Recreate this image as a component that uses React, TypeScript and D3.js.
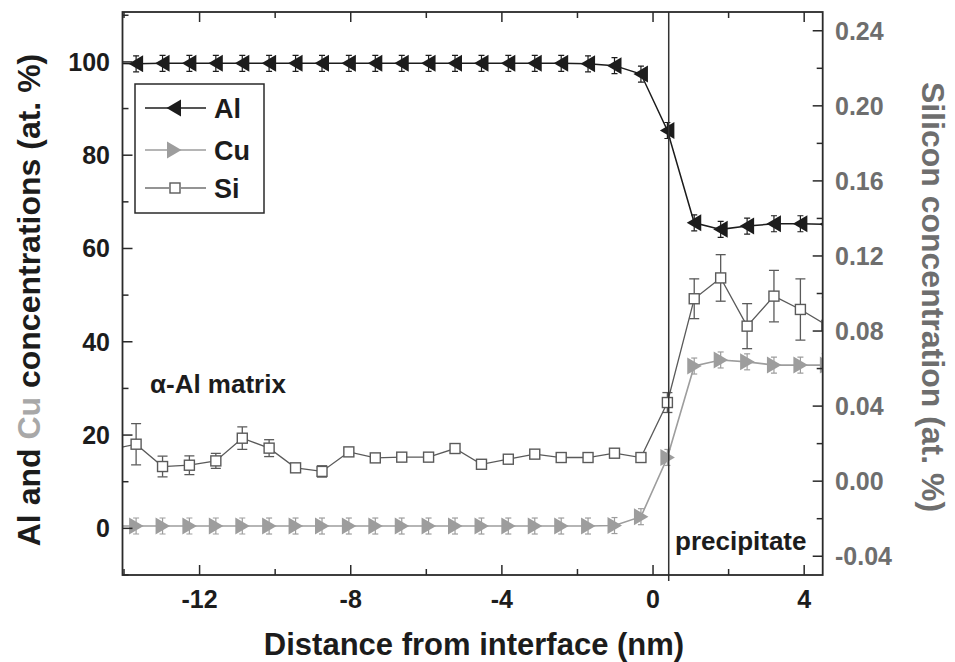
import React from "react";
import * as d3 from "d3";

// ---- data ----
const distance = [
  -14.38, -13.68, -12.98, -12.27, -11.57, -10.87, -10.16, -9.46, -8.76, -8.05,
  -7.35, -6.65, -5.94, -5.24, -4.54, -3.83, -3.13, -2.43, -1.72, -1.02,
  -0.32, 0.38, 1.09, 1.79, 2.49, 3.2, 3.9, 4.6,
];
const alConc = [
  99.7, 99.6, 99.7, 99.7, 99.7, 99.7, 99.7, 99.7, 99.7, 99.7,
  99.7, 99.7, 99.7, 99.7, 99.7, 99.7, 99.7, 99.7, 99.6, 99.2,
  97.4, 85.3, 65.5, 64.1, 64.8, 65.3, 65.3, 65.2,
];
const cuConc = [
  0.5, 0.5, 0.5, 0.5, 0.5, 0.5, 0.5, 0.5, 0.5, 0.5,
  0.5, 0.5, 0.5, 0.5, 0.5, 0.5, 0.5, 0.5, 0.5, 0.6,
  2.5, 15.2, 34.8, 36.1, 35.7, 35.0, 35.0, 35.0,
];
const siConc = [
  0.0167, 0.0197, 0.0078, 0.0085, 0.0108, 0.0229, 0.0176, 0.0071, 0.0052, 0.0156,
  0.0124, 0.0128, 0.0128, 0.0174, 0.009, 0.0117, 0.0144, 0.0126, 0.0126, 0.0149,
  0.0126, 0.0419, 0.0972, 0.1083, 0.0826, 0.0986, 0.0915, 0.083,
];
const siErr = [
  0.006, 0.011, 0.0055, 0.005, 0.004, 0.006, 0.0045, 0.001, 0.003, 0.002,
  0.001, 0.001, 0.001, 0.001, 0.002, 0.002, 0.001, 0.002, 0.002, 0.001,
  0.001, 0.0053, 0.0106, 0.0124, 0.012, 0.0137, 0.0163, 0.015,
];
const interfaceX = 0.415;
const xTicksMajor = [-12, -8, -4, 0, 4];
const xTicksMinor = [-14, -10, -6, -2, 2];
const leftTicksMajor = [0, 20, 40, 60, 80, 100];
const leftTicksMinor = [-10, 10, 30, 50, 70, 90, 110];
const rightTicksMajor = [-0.04, 0, 0.04, 0.08, 0.12, 0.16, 0.2, 0.24];
const rightTicksMinor = [-0.02, 0.02, 0.06, 0.1, 0.14, 0.18, 0.22];
const legendItems = ["Al", "Cu", "Si"];

const FONT = "'Liberation Sans', Arial, Helvetica, sans-serif";
const DARK = "#1c1c1c";
const GRAY_CU = "#9d9d9d";
const GRAY_SI = "#5a5a5a";
const GRAY_TXT = "#6e6e6e";

const W = 955, H = 662;
const L = 122.5, R = 822.7, T = 12, B = 575;

export default function App() {
  const x = d3.scaleLinear().domain([-14.04, 4.49]).range([L, R]);
  const yL = d3.scaleLinear().domain([-10, 110.7]).range([B, T]);
  const yR = d3.scaleLinear().domain([-0.05, 0.25]).range([B, T]);

  const alLine = d3.line<number>().x((_, i) => x(distance[i])).y((d) => yL(d))(alConc) || "";
  const cuLine = d3.line<number>().x((_, i) => x(distance[i])).y((d) => yL(d))(cuConc) || "";
  const siLine = d3.line<number>().x((_, i) => x(distance[i])).y((d) => yR(d))(siConc) || "";

  const triL = "M -7.5,0 L 7,-8.5 L 7,8.5 Z";
  const triR = "M 7.5,0 L -7,-8.5 L -7,8.5 Z";
  const fmtR = (v: number) => d3.format(".2f")(v).replace("\u2212", "-");

  const spiky = (col: string) => (
    <>
      <line x1={0} x2={0} y1={-8} y2={8} stroke={col} strokeWidth={1.2} />
      <line x1={-3} x2={3} y1={-8} y2={-8} stroke={col} strokeWidth={1.2} />
      <line x1={-3} x2={3} y1={8} y2={8} stroke={col} strokeWidth={1.2} />
    </>
  );

  return (
    <svg width={W} height={H} style={{ position: "absolute", left: 0, top: 0, background: "#fff" }} fontFamily={FONT}>
      <defs>
        <clipPath id="plotClip">
          <rect x={L} y={T} width={R - L} height={B - T} />
        </clipPath>
      </defs>
      <rect x={0} y={0} width={W} height={H} fill="#fff" />

      {/* data */}
      <g clipPath="url(#plotClip)">
        {/* Si */}
        <path d={siLine} fill="none" stroke={GRAY_SI} strokeWidth={1.3} />
        {siConc.map((v, i) => {
          const cx = x(distance[i]);
          const e = siErr[i];
          const y1 = yR(v + e), y2 = yR(v - e);
          return (
            <g key={"sie" + i} stroke={GRAY_SI} strokeWidth={1.3}>
              <line x1={cx} x2={cx} y1={y1} y2={y2} />
              <line x1={cx - 5} x2={cx + 5} y1={y1} y2={y1} />
              <line x1={cx - 5} x2={cx + 5} y1={y2} y2={y2} />
            </g>
          );
        })}
        {siConc.map((v, i) => (
          <rect key={"si" + i} x={x(distance[i]) - 5} y={yR(v) - 5} width={10} height={10}
            fill="#fff" stroke={GRAY_SI} strokeWidth={1.4} />
        ))}
        {/* Cu */}
        <path d={cuLine} fill="none" stroke={GRAY_CU} strokeWidth={1.6} />
        {cuConc.map((v, i) => (
          <g key={"cu" + i} transform={`translate(${x(distance[i])},${yL(v)})`}>
            {spiky(GRAY_CU)}
            <path d={triR} fill={GRAY_CU} />
          </g>
        ))}
        {/* Al */}
        <path d={alLine} fill="none" stroke={DARK} strokeWidth={1.5} />
        {alConc.map((v, i) => (
          <g key={"al" + i} transform={`translate(${x(distance[i])},${yL(v)})`}>
            {spiky(DARK)}
            <path d={triL} fill={DARK} />
          </g>
        ))}
      </g>

      {/* interface line */}
      <line x1={x(interfaceX)} x2={x(interfaceX)} y1={T} y2={B + 6} stroke="#333" strokeWidth={1.5} />

      {/* frame */}
      <rect x={L} y={T} width={R - L} height={B - T} fill="none" stroke="#2a2a2a" strokeWidth={1.8} />

      {/* x ticks (bottom + top, inward) */}
      {xTicksMajor.map((t) => (
        <g key={"xt" + t} stroke="#2a2a2a" strokeWidth={1.5}>
          <line x1={x(t)} x2={x(t)} y1={B} y2={B - 10} />
          <line x1={x(t)} x2={x(t)} y1={T} y2={T + 10} />
        </g>
      ))}
      {xTicksMinor.map((t) => (
        <g key={"xm" + t} stroke="#2a2a2a" strokeWidth={1.5}>
          <line x1={x(t)} x2={x(t)} y1={B} y2={B - 6} />
          <line x1={x(t)} x2={x(t)} y1={T} y2={T + 6} />
        </g>
      ))}
      {xTicksMajor.map((t) => (
        <text key={"xl" + t} x={x(t)} y={608} textAnchor="middle" fontSize={25} fontWeight="bold" fill={DARK}>
          {t < 0 ? "-" + Math.abs(t) : String(t)}
        </text>
      ))}

      {/* left ticks */}
      {leftTicksMajor.map((t) => (
        <line key={"lt" + t} x1={L} x2={L + 10} y1={yL(t)} y2={yL(t)} stroke="#2a2a2a" strokeWidth={1.5} />
      ))}
      {leftTicksMinor.map((t) => (
        <line key={"lm" + t} x1={L} x2={L + 6} y1={yL(t)} y2={yL(t)} stroke="#2a2a2a" strokeWidth={1.5} />
      ))}
      {leftTicksMajor.map((t) => (
        <text key={"ll" + t} x={110} y={yL(t) + 9} textAnchor="end" fontSize={25} fontWeight="bold" fill={DARK}>
          {t}
        </text>
      ))}

      {/* right ticks */}
      {rightTicksMajor.map((t) => (
        <line key={"rt" + t} x1={R} x2={R - 10} y1={yR(t)} y2={yR(t)} stroke="#2a2a2a" strokeWidth={1.5} />
      ))}
      {rightTicksMinor.map((t) => (
        <line key={"rm" + t} x1={R} x2={R - 6} y1={yR(t)} y2={yR(t)} stroke="#2a2a2a" strokeWidth={1.5} />
      ))}
      {rightTicksMajor.map((t) => (
        <text key={"rl" + t} x={835} y={yR(t) + 9} textAnchor="start" fontSize={25} fontWeight="bold" fill={GRAY_TXT}>
          {fmtR(t)}
        </text>
      ))}

      {/* axis titles */}
      <text x={474} y={655} textAnchor="middle" fontSize={31} fontWeight="bold" fill={DARK}>
        Distance from interface (nm)
      </text>
      <text transform={`translate(40,300) rotate(-90)`} textAnchor="middle" fontSize={32} fontWeight="bold" fill={DARK}>
        <tspan>Al and </tspan>
        <tspan fill="#a8a8a8">Cu</tspan>
        <tspan> concentrations (at. %)</tspan>
      </text>
      <text transform={`translate(922,297) rotate(90)`} textAnchor="middle" fontSize={32} fontWeight="bold" fill={GRAY_TXT}>
        Silicon concentration (at. %)
      </text>

      {/* annotations */}
      <text x={150} y={393} fontSize={26} fontWeight="bold" fill={DARK}>α-Al matrix</text>
      <text x={675} y={550} fontSize={26} fontWeight="bold" fill={DARK}>precipitate</text>

      {/* legend */}
      <rect x={135} y={84} width={129} height={129} fill="#fff" stroke="#2a2a2a" strokeWidth={1.5} />
      {legendItems.map((name, i) => {
        const ly = [108, 150, 188][i];
        const col = i === 0 ? DARK : i === 1 ? GRAY_CU : GRAY_SI;
        return (
          <g key={"lg" + name}>
            {i < 2 ? (
              <>
                <line x1={145} x2={206} y1={ly} y2={ly} stroke={col} strokeWidth={1.5} />
                <path d={i === 0 ? triL : triR} transform={`translate(174,${ly})`} fill={col} />
              </>
            ) : (
              <>
                <line x1={145} x2={169} y1={ly} y2={ly} stroke={col} strokeWidth={1.3} />
                <line x1={181} x2={206} y1={ly} y2={ly} stroke={col} strokeWidth={1.3} />
                <rect x={170} y={ly - 5} width={10} height={10} fill="#fff" stroke={col} strokeWidth={1.4} />
              </>
            )}
            <text x={214} y={ly + 10} fontSize={27} fontWeight="bold" fill={DARK}>{name}</text>
          </g>
        );
      })}
    </svg>
  );
}
